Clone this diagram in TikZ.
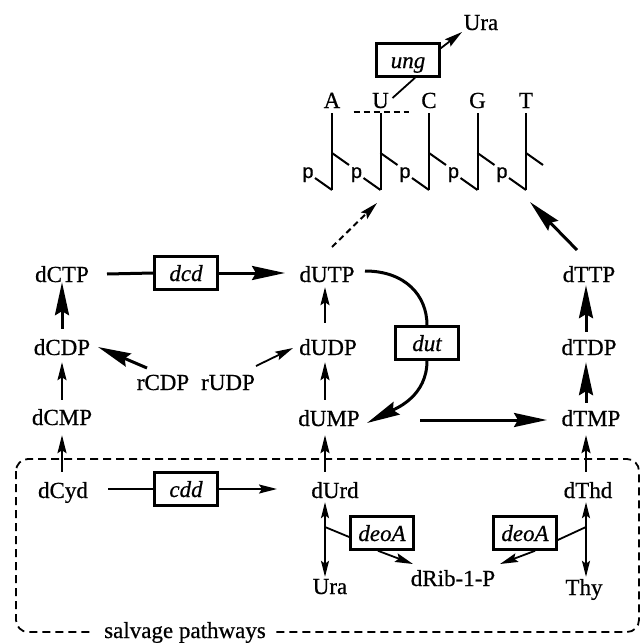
\documentclass[tikz,border=0pt]{standalone}
\usepackage{fontspec}
\setmainfont{Liberation Serif}[FakeBold=0.6]
\newfontfamily\psans{Liberation Sans}[FakeBold=0.6]
\usetikzlibrary{arrows.meta}
\begin{document}
\begin{tikzpicture}[x=1pt,y=-1pt,
  mol/.style={inner sep=0pt, text height=16pt, text depth=0pt, font=\fontsize{23}{27}\selectfont},
  enz/.style={draw, line width=2.6pt, fill=white, minimum width=63pt, minimum height=33pt, inner sep=0pt,
    text height=16pt, text depth=0pt, font=\fontsize{23}{27}\selectfont\itshape},
  psty/.style={inner sep=0pt, text height=10pt, text depth=0pt, font=\psans\fontsize{20}{24}\selectfont},
  big/.style={line width=3pt, -{Stealth[length=33pt,width=14pt,inset=4pt]}},
  bigline/.style={line width=3pt},
  small/.style={line width=1.8pt, -{Stealth[length=18pt,width=9pt,inset=3pt]}},
  smalldouble/.style={line width=1.8pt, {Stealth[length=16pt,width=8pt,inset=3pt]}-{Stealth[length=16pt,width=8pt,inset=3pt]}},
  thinline/.style={line width=1.8pt},
  strand/.style={line width=2pt},
  dasharrow/.style={line width=2pt, dash pattern=on 6pt off 4pt, -{Stealth[length=18pt,width=9pt,inset=3pt]}},
  frame/.style={line width=1.8pt, dash pattern=on 8pt off 5pt, rounded corners=12pt}
]
\useasboundingbox (0,0) rectangle (642,643);

% salvage frame
\draw[frame] (16,459) rectangle (639,632);
\node[mol, fill=white, inner xsep=10pt] (salv) at (185,630) {salvage pathways};

% column coordinates
\coordinate (colC) at (62,0);
\coordinate (colU) at (325,0);
\coordinate (colT) at (586,0);

% DNA strand
\foreach \n [count=\i from 0] in {A,U,C,G,T} {
  \pgfmathsetmacro\xx{332+48.5*\i}
  \node[mol] (\n) at (\xx,100) {\n};
  \coordinate (b\n) at (\xx,190);
  \coordinate (m\n) at (\xx,153);
  \node[psty] (p\n) at (\xx-24,173) {p};
  \draw[strand, shorten <=5pt] (\n.south) -- (b\n);
  \draw[strand] (m\n) -- ++(17,12);
  \draw[strand] ([xshift=7,yshift=-5]p\n.center) -- (b\n);
}
\draw[line width=2pt, dash pattern=on 6pt off 4pt] ([xshift=-27,yshift=-12]U.center) -- ([xshift=28,yshift=-12]U.center);

\node[mol] (UraT) at (481,22) {Ura};
\node[enz] (ung) at (408,60) {ung};
\draw[small] ([yshift=-6]ung.north east) -- ([xshift=-19,yshift=-10]UraT.center);
\draw[thinline] ([xshift=12,yshift=2]U.center) -- ([xshift=7]ung.south);

% main nodes
\node[mol] (dCTP) at (62,274) {dCTP};
\node[mol] (dUTP) at (327,274) {dUTP};
\node[mol] (dTTP) at (589,274) {dTTP};
\node[mol] (dCDP) at (62,347) {dCDP};
\node[mol] (dUDP) at (328,347) {dUDP};
\node[mol] (dTDP) at (589,347) {dTDP};
\node[mol] (dCMP) at (62,417) {dCMP};
\node[mol] (dUMP) at (329,418) {dUMP};
\node[mol] (dTMP) at (591,418) {dTMP};
\node[mol] (dCyd) at (63,490) {dCyd};
\node[mol] (dUrd) at (335,490) {dUrd};
\node[mol] (dThd) at (588,490) {dThd};
\node[mol] (rCDP) at (163,382) {rCDP};
\node[mol] (rUDP) at (228,382) {rUDP};
\node[mol] (UraB) at (330,586) {Ura};
\node[mol] (dRib) at (453,578) {dRib-1-P};
\node[mol] (Thy) at (584,587) {Thy};

\node[enz] (dcd) at (186,273) {dcd};
\node[enz] (cdd) at (186,489) {cdd};
\node[enz] (dut) at (427,343) {dut};
\node[enz] (deoA1) at (382,533) {deoA};
\node[enz] (deoA2) at (525,533) {deoA};

% dcd
\draw[bigline] ([xshift=45]dCTP.center) -- (dcd.west);
\draw[big] (dcd.east) -- ([xshift=-42,yshift=1]dUTP.center);

% C column
\draw[big, shorten <=10pt] (dCDP.north -| colC) -- (dCTP.south -| colC);
\draw[small, shorten <=9pt, shorten >=7pt] (dCMP.north -| colC) -- (dCDP.south -| colC);
\draw[small, shorten <=10pt, shorten >=10pt] (dCyd.north -| colC) -- (dCMP.south -| colC);

% U column
\draw[small, shorten <=16pt, shorten >=5pt] (dUDP.north -| colU) -- (dUTP.south -| colU);
\draw[small, shorten <=10pt, shorten >=7pt] (dUMP.north -| colU) -- (dUDP.south -| colU);
\draw[small, shorten <=10pt, shorten >=9pt] (dUrd.north -| colU) -- (dUMP.south -| colU);
\draw[smalldouble, shorten <=4pt, shorten >=1pt] (dUrd.south -| colU) -- (UraB.north -| colU);

% T column
\draw[big, shorten <=7pt, shorten >=3pt] (dTDP.north -| colT) -- (dTTP.south -| colT);
\draw[big, shorten <=7pt, shorten >=7pt] (dTMP.north -| colT) -- (dTDP.south -| colT);
\draw[small, shorten <=10pt, shorten >=9pt] (dThd.north -| colT) -- (dTMP.south -| colT);
\draw[smalldouble, shorten <=4pt, shorten >=2pt] (dThd.south -| colT) -- (Thy.north -| colT);

% deoA branches
\coordinate (brU) at (325,527);
\coordinate (brT) at (586,527);
\draw[thinline] (brU) -- ([yshift=-4]deoA1.west);
\draw[thinline] (brT) -- ([yshift=-7]deoA2.east);
\draw[small] ([xshift=-4]deoA1.south) -- ([xshift=-40,yshift=14]dRib.center);
\draw[small] ([xshift=10]deoA2.south) -- ([xshift=47,yshift=14]dRib.center);

% rCDP, rUDP
\draw[big] ([xshift=-16,yshift=14]rCDP.center) -- ([xshift=36]dCDP.center);
\draw[small] ([xshift=28,yshift=16]rUDP.center) -- ([xshift=-35,yshift=-1]dUDP.center);

% dUMP -> dTMP
\draw[big] ([xshift=91,yshift=-2]dUMP.center) -- ([xshift=-44,yshift=-2]dTMP.center);

% cdd
\draw[thinline] ([xshift=45,yshift=1]dCyd.center) -- (cdd.west);
\draw[small] (cdd.east) -- ([xshift=-58,yshift=1]dUrd.center);

% into DNA
\draw[dasharrow] ([xshift=5,yshift=27]dUTP.center) -- ([xshift=-3.5,yshift=-13]bU);
\draw[big] ([xshift=-12,yshift=24]dTTP.center) -- ([xshift=4,yshift=-12]bT);

% dut
\draw[bigline] ([xshift=38,yshift=3]dUTP.center) .. controls +(40,0) and +(0,-30) .. (dut.north);
\draw[big] (dut.south) .. controls +(0,35) and +(30,-15) .. ([xshift=38,yshift=-5]dUMP.center);
\end{tikzpicture}
\end{document}
